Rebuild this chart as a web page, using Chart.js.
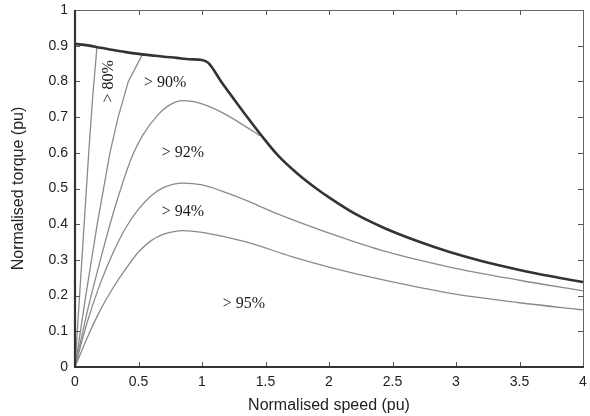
<!DOCTYPE html>
<html>
<head>
<meta charset="utf-8">
<script src="https://cdn.jsdelivr.net/npm/chart.js@4/dist/chart.umd.min.js"></script>
<style>
  html, body { margin: 0; padding: 0; background: #fff; }
  #wrap { width: 590px; height: 416px; }
</style>
</head>
<body>
<div id="wrap"><canvas id="myChart"></canvas></div>
<script>
'use strict';

// tick labels
const xTicks = [0, 0.5, 1, 1.5, 2, 2.5, 3, 3.5, 4];
const yTicks = [0, 0.1, 0.2, 0.3, 0.4, 0.5, 0.6, 0.7, 0.8, 0.9, 1];

// maximum torque envelope
const envSpeed  = [0, 0.1, 0.2, 0.3, 0.4, 0.5, 0.6, 0.7, 0.8, 0.9, 1.0, 1.05, 1.15, 1.24, 1.35, 1.46, 1.6, 1.75, 1.9, 2.0, 2.2, 2.43, 2.7, 2.95, 3.2, 3.5, 3.75, 4];
const envTorque = [0.905, 0.901, 0.894, 0.888, 0.882, 0.877, 0.873, 0.869, 0.866, 0.862, 0.86, 0.852, 0.8, 0.756, 0.703, 0.652, 0.592, 0.542, 0.5, 0.475, 0.43, 0.39, 0.352, 0.322, 0.297, 0.272, 0.254, 0.238];

// efficiency contours
const eff80Speed  = [0, 0.036, 0.072, 0.108, 0.14, 0.173];
const eff80Torque = [0, 0.2, 0.4, 0.6, 0.76, 0.897];

const eff90Speed  = [0, 0.085, 0.175, 0.275, 0.34, 0.42, 0.53];
const eff90Torque = [0, 0.2, 0.4, 0.6, 0.7, 0.8, 0.875];

const eff92Speed  = [0, 0.1, 0.2, 0.3, 0.37, 0.45, 0.535, 0.65, 0.75, 0.85, 1.0, 1.2, 1.35, 1.457];
const eff92Torque = [0, 0.16, 0.3, 0.43, 0.51, 0.59, 0.65, 0.705, 0.735, 0.746, 0.737, 0.705, 0.672, 0.648];

const eff94Speed  = [0, 0.1, 0.2, 0.3, 0.4, 0.5, 0.6, 0.7, 0.85, 1.0, 1.2, 1.38, 1.6, 2.0, 2.4, 2.95, 3.5, 4];
const eff94Torque = [0, 0.13, 0.235, 0.32, 0.39, 0.442, 0.48, 0.503, 0.515, 0.51, 0.487, 0.462, 0.428, 0.375, 0.328, 0.28, 0.243, 0.213];

const eff95Speed  = [0, 0.1, 0.2, 0.3, 0.4, 0.5, 0.6, 0.7, 0.85, 1.0, 1.2, 1.38, 1.7, 2.0, 2.4, 2.95, 3.5, 4];
const eff95Torque = [0, 0.085, 0.16, 0.222, 0.275, 0.322, 0.354, 0.372, 0.382, 0.377, 0.363, 0.347, 0.31, 0.28, 0.246, 0.207, 0.18, 0.16];

// region labels
const regionText   = ['> 80%', '> 90%', '> 92%', '> 94%', '> 95%'];
const regionSpeed  = [0.268, 0.71, 0.85, 0.85, 1.33];
const regionTorque = [0.80, 0.795, 0.60, 0.434, 0.176];

const pts = (xs, ys) => xs.map((x, i) => ({ x: x, y: ys[i] }));

const contour = (xs, ys, steep) => ({
    data: pts(xs, ys),
    borderColor: '#8a8a8a',
    borderWidth: 1.3,
    pointRadius: 0,
    fill: false,
    tension: 0,
    cubicInterpolationMode: steep ? 'default' : 'monotone'
});

const framePlugin = {
    id: 'frame',
    afterDatasetsDraw(chart) {
        const ctx = chart.ctx;
        const a = chart.chartArea;
        const xs = chart.scales.x;
        const ys = chart.scales.y;
        ctx.save();

        // inward ticks
        ctx.strokeStyle = '#555';
        ctx.lineWidth = 1;
        ctx.beginPath();
        xTicks.forEach(v => {
            const px = Math.round(xs.getPixelForValue(v)) + 0.5;
            ctx.moveTo(px, a.bottom); ctx.lineTo(px, a.bottom - 5);
            ctx.moveTo(px, a.top); ctx.lineTo(px, a.top + 5);
        });
        yTicks.forEach(v => {
            const py = Math.round(ys.getPixelForValue(v)) + 0.5;
            ctx.moveTo(a.left, py); ctx.lineTo(a.left + 5, py);
            ctx.moveTo(a.right, py); ctx.lineTo(a.right - 5, py);
        });
        ctx.stroke();

        // thin top and right border
        ctx.strokeStyle = '#666';
        ctx.beginPath();
        ctx.moveTo(a.left, a.top + 0.5); ctx.lineTo(a.right + 0.5, a.top + 0.5);
        ctx.lineTo(a.right + 0.5, a.bottom);
        ctx.stroke();

        // heavier left and bottom axes
        ctx.strokeStyle = '#333';
        ctx.lineWidth = 2.2;
        ctx.beginPath();
        ctx.moveTo(a.left, a.top); ctx.lineTo(a.left, a.bottom);
        ctx.lineTo(a.right + 1, a.bottom);
        ctx.stroke();

        // region labels
        ctx.fillStyle = '#1a1a1a';
        ctx.font = '16px "Liberation Serif", "DejaVu Serif", serif';
        ctx.textAlign = 'center';
        ctx.textBaseline = 'middle';
        regionText.forEach((t, i) => {
            const px = xs.getPixelForValue(regionSpeed[i]);
            const py = ys.getPixelForValue(regionTorque[i]);
            ctx.save();
            ctx.translate(px, py);
            if (i === 0) ctx.rotate(-Math.PI / 2);
            ctx.fillText(t, 0, 0);
            ctx.restore();
        });
        ctx.restore();
    }
};

const noPad = s => {
    s.paddingLeft = 0;
    s.paddingRight = 0;
    s.paddingTop = 0;
    s.paddingBottom = 0;
};

const ctx = document.getElementById('myChart').getContext('2d');
const tickFont = { family: '"Liberation Sans", Arial, sans-serif', size: 14 };
const titleFont = { family: '"Liberation Sans", Arial, sans-serif', size: 16 };

new Chart(ctx, {
    type: 'line',
    data: {
        datasets: [
            {
                data: pts(envSpeed, envTorque),
                borderColor: '#333',
                borderWidth: 2.6,
                pointRadius: 0,
                fill: false,
                cubicInterpolationMode: 'monotone'
            },
            contour(eff80Speed, eff80Torque, true),
            contour(eff90Speed, eff90Torque, true),
            contour(eff92Speed, eff92Torque),
            contour(eff94Speed, eff94Torque),
            contour(eff95Speed, eff95Torque)
        ]
    },
    options: {
        responsive: true,
        maintainAspectRatio: false,
        animation: false,
        layout: { autoPadding: false, padding: { top: 10, right: 7, left: 0, bottom: 0 } },
        plugins: { legend: { display: false }, tooltip: { enabled: false } },
        scales: {
            x: {
                type: 'linear',
                min: 0,
                max: 4,
                afterBuildTicks: s => { s.ticks = xTicks.map(v => ({ value: v })); },
                afterFit: s => { s.height = 49; noPad(s); },
                grid: { display: false, drawTicks: false },
                border: { display: false },
                ticks: { font: tickFont, color: '#222', padding: 7, maxRotation: 0, callback: v => String(+v.toFixed(2)) },
                title: {
                    display: true,
                    text: 'Normalised speed (pu)',
                    font: titleFont,
                    color: '#222',
                    padding: { top: 0, bottom: 1 }
                }
            },
            y: {
                type: 'linear',
                min: 0,
                max: 1,
                afterBuildTicks: s => { s.ticks = yTicks.map(v => ({ value: v })); },
                afterFit: s => { s.width = 75; noPad(s); },
                grid: { display: false, drawTicks: false },
                border: { display: false },
                ticks: { font: tickFont, color: '#222', padding: 7, callback: v => String(+v.toFixed(2)) },
                title: {
                    display: true,
                    text: 'Normalised torque (pu)',
                    font: titleFont,
                    color: '#222',
                    padding: { top: 9, bottom: 0 }
                }
            }
        }
    },
    plugins: [framePlugin]
});
</script>
</body>
</html>
